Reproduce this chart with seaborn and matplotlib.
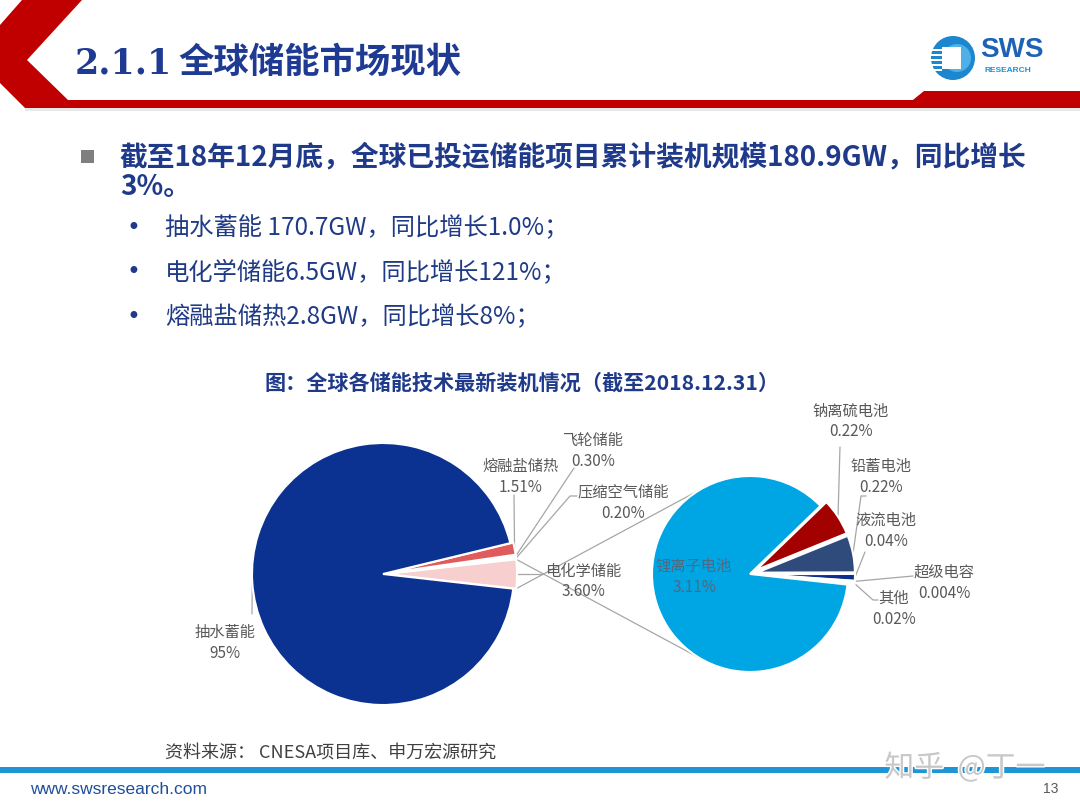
import numpy as np
import matplotlib
matplotlib.use('Agg')
import matplotlib.pyplot as plt
import seaborn as sns
from matplotlib.patches import Polygon, Rectangle, Circle
import matplotlib.patheffects as pe

sns.set_theme(style='white')
plt.rcParams['font.family'] = ['Noto Sans CJK SC', 'DejaVu Sans']
plt.rcParams['axes.unicode_minus'] = False

# ---------------- data ----------------
main_labels = ['电化学储能', '压缩空气储能', '飞轮储能', '熔融盐储热', '抽水蓄能']
main_values = [3.60, 0.20, 0.30, 1.51, 95.0]
main_pct = ['3.60%', '0.20%', '0.30%', '1.51%', '95%']

sub_labels = ['钠离硫电池', '铅蓄电池', '液流电池', '超级电容', '其他', '锂离子电池']
sub_values = [0.22, 0.22, 0.04, 0.004, 0.02, 3.11]
sub_pct = ['0.22%', '0.22%', '0.04%', '0.004%', '0.02%', '3.11%']

title_num = '2.1.1'
title_txt = '全球储能市场现状'
headline = ['截至18年12月底，全球已投运储能项目累计装机规模180.9GW，同比增长', '3%。']
bullets = ['抽水蓄能 170.7GW，同比增长1.0%；', '电化学储能6.5GW，同比增长121%；', '熔融盐储热2.8GW，同比增长8%；']
chart_title = '图：全球各储能技术最新装机情况（截至2018.12.31）'
source = '资料来源： CNESA项目库、申万宏源研究'
site = 'www.swsresearch.com'
page = '13'

# ---------------- styles / layout ----------------
main_colors = ['#F7CFCF', '#FFFFFF', '#FFFFFF', '#E05C5C', '#0B3290']
sub_colors = ['#A30000', '#2F4B7C', '#0B2F8C', '#FFFFFF', '#FFFFFF', '#00A5E3']
main_explode = [3, 3, 3, 3, 0]
sub_explode = [7, 7, 7, 7, 7, 0]
MAIN_C, MAIN_R = (383, 574), 131
SUB_C, SUB_R = (750, 574), 98
label_col = '#595959'
lead_col = '#A6A6A6'
blue_txt = '#1F3A8A'

W, H = 1080, 810
fig = plt.figure(figsize=(10.8, 8.1), dpi=100)
fig.patch.set_facecolor('white')
ax = fig.add_axes([0, 0, 1, 1])

# ---------------- header ----------------
ax.add_patch(Polygon([(22, 0), (82, 0), (27, 60), (68, 100), (1080, 100), (1080, 108),
                      (25, 108), (0, 83), (0, 25)], closed=True, fc='#C00000', ec='none', zorder=2))
ax.add_patch(Polygon([(903, 108), (924, 91), (1080, 91), (1080, 108)], closed=True,
                     fc='#C00000', ec='none', zorder=2))
ax.add_patch(Rectangle((25, 108), 1055, 3, fc='#E8E8E8', ec='none', zorder=1))

ax.text(75, 63, title_num, fontsize=25, color='#1F3A93', weight='bold',
        family=['DejaVu Serif'], va='center', ha='left')
ax.text(178, 62, title_txt, fontsize=25.5, color='#1F3A93', weight='bold',
        va='center', ha='left')

# logo
ax.add_patch(Circle((953, 58), 22, fc='#1C86CF', ec='none', zorder=3))
ax.add_patch(Circle((957, 58), 14, fc='#4FB0E8', ec='none', zorder=3))
ax.add_patch(Rectangle((942, 47), 19, 22, fc='white', ec='none', zorder=4))
for yy in [49, 54, 59, 64, 69]:
    ax.add_patch(Rectangle((931, yy), 11, 2.2, fc='white', ec='none', zorder=4))
ax.text(1012, 50, 'SWS', fontsize=20, weight='bold', color='#1D62B5',
        family='Liberation Sans', ha='center', va='center')
ax.text(1008, 70, 'RESEARCH', fontsize=6, weight='bold', color='#1E90D6',
        family='Liberation Sans', ha='center', va='center')

# ---------------- bullet text ----------------
ax.add_patch(Rectangle((81, 150), 13, 13, fc='#7F7F7F', ec='none'))
ax.text(120, 157, headline[0], fontsize=20, weight='bold', color=blue_txt, va='center', ha='left')
ax.text(120, 187, headline[1], fontsize=20, weight='bold', color=blue_txt, va='center', ha='left')
for yy, b in zip([228, 272, 317], bullets):
    ax.text(133, yy, '•', fontsize=17, color=blue_txt, va='center', ha='center',
            family='DejaVu Sans')
    ax.text(165, yy, b, fontsize=17.5, color='#203B86', va='center', ha='left')

ax.text(522, 383, chart_title, fontsize=15.2, weight='bold', color=blue_txt,
        ha='center', va='center')

# ---------------- pies (y axis points down: data angle = -visual angle) ----------------
tot = sum(main_values)
main_start = main_values[0] / tot * 180.0
wm, _ = ax.pie(main_values, colors=main_colors, explode=main_explode, center=MAIN_C,
               radius=MAIN_R, startangle=main_start, counterclock=False, frame=True,
               wedgeprops=dict(edgecolor='white', linewidth=1.5))
ws, _ = ax.pie(sub_values, colors=sub_colors, explode=sub_explode, center=SUB_C,
               radius=SUB_R, startangle=-44, counterclock=True, frame=True,
               wedgeprops=dict(edgecolor='white', linewidth=1.5))


def pt(w, ang, rf=1.0):
    cx, cy = w.center
    a = np.deg2rad(ang)
    return cx + w.r * rf * np.cos(a), cy + w.r * rf * np.sin(a)


def mid(w):
    return 0.5 * (w.theta1 + w.theta2)


# pie-of-pie connectors
e = wm[0]
for ang_main, ang_sub in [(e.theta1, 121), (e.theta2, -121)]:
    x0, y0 = pt(e, ang_main)
    x1 = SUB_C[0] + SUB_R * np.cos(np.deg2rad(ang_sub))
    y1 = SUB_C[1] + SUB_R * np.sin(np.deg2rad(ang_sub))
    ax.plot([x0, x1], [y0, y1], color=lead_col, lw=0.9, zorder=0.5)

# main labels
main_label_pos = [(583, 571), (623, 492), (593, 440), (521, 466), (225, 632)]
main_leaders = [[(543, 574)], [(570, 496), (577, 496)], [(574, 468)], [(514, 495)], [(252, 614)]]
for w, lab, pc, (lx, ly), path in zip(wm, main_labels, main_pct, main_label_pos, main_leaders):
    ax.text(lx, ly, lab, fontsize=11, color=label_col, ha='center', va='center')
    ax.text(lx, ly + 21, pc, fontsize=11, color=label_col, ha='center', va='center')
    a = pt(w, mid(w))
    xs = [a[0]] + [p[0] for p in path]
    ys = [a[1]] + [p[1] for p in path]
    ax.plot(xs, ys, color=lead_col, lw=0.9, zorder=0.5)

# sub labels
sub_label_pos = [(851, 411), (881, 466), (886, 520), (944, 572), (894, 598), (694, 566)]
sub_leaders = [[(840, 447)], [(861, 496), (866, 496)], [(865, 552)], [(913, 576)],
               [(873, 600), (878, 600)], None]
for w, lab, pc, (lx, ly), path in zip(ws, sub_labels, sub_pct, sub_label_pos, sub_leaders):
    col = label_col if path is not None else '#4E6A80'
    ax.text(lx, ly, lab, fontsize=11, color=col, ha='center', va='center', zorder=5)
    ax.text(lx, ly + 21, pc, fontsize=11, color=col, ha='center', va='center', zorder=5)
    if path is not None:
        a = pt(w, mid(w))
        xs = [a[0]] + [p[0] for p in path]
        ys = [a[1]] + [p[1] for p in path]
        ax.plot(xs, ys, color=lead_col, lw=0.9, zorder=0.5)

# ---------------- footer ----------------
ax.text(165, 754, source, fontsize=13, color='#404040', ha='left', va='center')
ax.add_patch(Rectangle((0, 767), 1080, 6, fc='#1E96D6', ec='none', zorder=2))
ax.text(30, 789, site, fontsize=12.5, color='#1F4E9A', family='Liberation Sans',
        ha='left', va='center')
ax.text(1058, 789, page, fontsize=10, color='#595959', family='Liberation Sans',
        ha='right', va='center')
ax.text(965, 768, '知乎  @丁一', fontsize=21.5, color='#C8C8C8', ha='center', va='center', zorder=3,
        path_effects=[pe.withStroke(linewidth=2, foreground='white')])

ax.set_xlim(0, W)
ax.set_ylim(H, 0)
ax.set_aspect('auto')
ax.set_axis_off()

fig.savefig('out.png', dpi=100, facecolor='white')
